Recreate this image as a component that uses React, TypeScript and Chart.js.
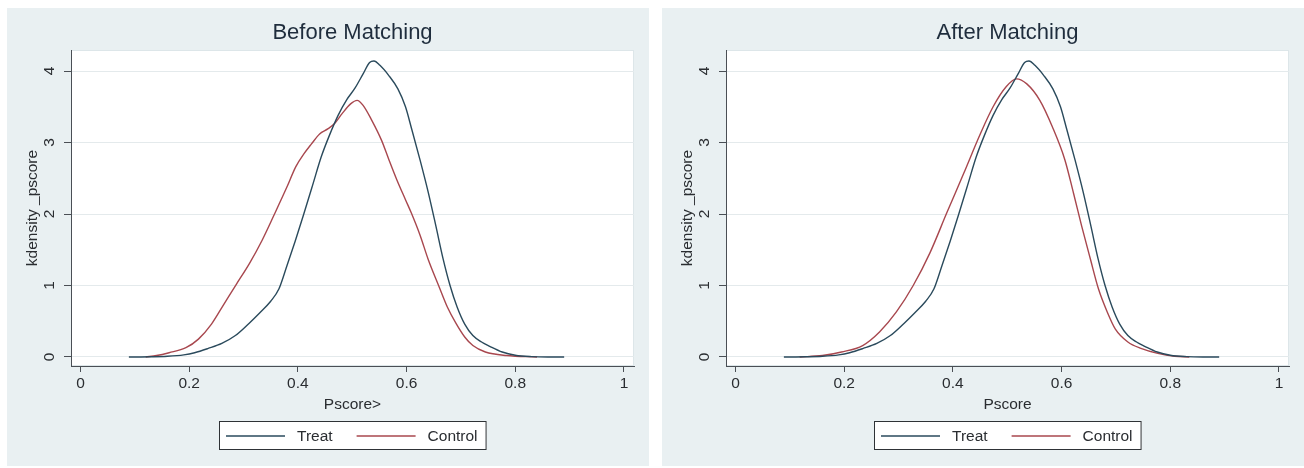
import React, { useEffect, useRef } from 'react';
import { Chart, registerables } from 'chart.js';

Chart.register(...registerables);

// ---------- data ----------
const panelTitles = ['Before Matching', 'After Matching'];
const xAxisTitles = ['Pscore>', 'Pscore'];
const yAxisTitle = 'kdensity _pscore';
const seriesLabels = ['Treat', 'Control'];
const xTickValues = [0, 0.2, 0.4, 0.6, 0.8, 1];
const yTickValues = [0, 1, 2, 3, 4];

const treatPscore = [0.089, 0.13, 0.16, 0.19, 0.21, 0.235, 0.26, 0.285, 0.31, 0.33, 0.35, 0.365, 0.38, 0.395, 0.41, 0.427, 0.443, 0.458, 0.474, 0.49, 0.505, 0.52, 0.532, 0.54, 0.551, 0.567, 0.584, 0.598, 0.609, 0.625, 0.64, 0.654, 0.667, 0.68, 0.693, 0.707, 0.722, 0.738, 0.753, 0.776, 0.8, 0.83, 0.86, 0.89];
const treatDensity = [0, 0.003, 0.01, 0.03, 0.06, 0.12, 0.19, 0.3, 0.47, 0.62, 0.78, 0.95, 1.28, 1.62, 1.98, 2.4, 2.8, 3.1, 3.38, 3.6, 3.76, 3.96, 4.12, 4.14, 4.08, 3.94, 3.75, 3.5, 3.2, 2.75, 2.3, 1.83, 1.38, 1.0, 0.7, 0.46, 0.3, 0.21, 0.15, 0.07, 0.025, 0.005, 0, 0];

const controlBeforePscore = [0.12, 0.14, 0.163, 0.194, 0.217, 0.241, 0.264, 0.287, 0.311, 0.334, 0.357, 0.38, 0.396, 0.411, 0.425, 0.44, 0.455, 0.468, 0.481, 0.497, 0.509, 0.52, 0.536, 0.554, 0.567, 0.582, 0.598, 0.609, 0.625, 0.64, 0.66, 0.675, 0.691, 0.707, 0.722, 0.745, 0.784, 0.84];
const controlBeforeDensity = [0, 0.02, 0.06, 0.13, 0.25, 0.46, 0.74, 1.02, 1.31, 1.63, 2.0, 2.38, 2.66, 2.84, 2.98, 3.12, 3.19, 3.27, 3.4, 3.54, 3.59, 3.52, 3.31, 3.03, 2.77, 2.48, 2.2, 2.01, 1.7, 1.36, 0.98, 0.7, 0.47, 0.28, 0.16, 0.07, 0.02, 0];

const controlAfterPscore = [0.118, 0.16, 0.195, 0.234, 0.265, 0.296, 0.327, 0.358, 0.389, 0.42, 0.451, 0.474, 0.498, 0.517, 0.536, 0.56, 0.583, 0.606, 0.622, 0.637, 0.653, 0.668, 0.684, 0.699, 0.722, 0.746, 0.777, 0.808, 0.835];
const controlAfterDensity = [0, 0.02, 0.07, 0.16, 0.35, 0.63, 1.0, 1.46, 2.02, 2.57, 3.13, 3.5, 3.78, 3.89, 3.82, 3.59, 3.22, 2.76, 2.29, 1.83, 1.37, 0.95, 0.63, 0.39, 0.21, 0.12, 0.05, 0.01, 0];

// ---------- style ----------
const FONT = '"Liberation Sans", Arial, Helvetica, sans-serif';
const TREAT_COLOR = '#2a4a5c';
const CONTROL_COLOR = '#a8474e';
const BG = '#e9f0f2';
const GRID = '#e4eaec';
const AXIS = '#4a4f55';
const TEXT = '#2a2d31';
const TITLE_COLOR = '#1f2d3d';
const PANEL_W = 642;
const PANEL_H = 458;

const panelDecor = {
  id: 'panelDecor',
  beforeDraw(chart: any) {
    const { ctx, chartArea: a, width, height } = chart;
    ctx.save();
    ctx.fillStyle = BG;
    ctx.fillRect(0, 0, width, height);
    ctx.fillStyle = '#ffffff';
    ctx.fillRect(a.left, a.top, a.right - a.left, a.bottom - a.top);
    ctx.strokeStyle = '#dde6e9';
    ctx.lineWidth = 1;
    ctx.strokeRect(a.left + 0.5, a.top + 0.5, a.right - a.left - 1, a.bottom - a.top - 1);
    ctx.restore();
  },
  afterDraw(chart: any, _args: any, opts: any) {
    const { ctx, chartArea: a } = chart;
    const cx = (a.left + a.right) / 2;
    ctx.save();
    // main title
    ctx.font = `22px ${FONT}`;
    ctx.fillStyle = TITLE_COLOR;
    ctx.textAlign = 'center';
    ctx.textBaseline = 'middle';
    ctx.fillText(opts.title, cx, 25);

    // legend box
    ctx.font = `15.5px ${FONT}`;
    const ds = chart.data.datasets;
    const lineLen = 59;
    const padL = 7;
    const padR = 9;
    const gap = 12;
    const itemGap = 24;
    const widths = ds.map((d: any) => ctx.measureText(d.label).width);
    let total = padL + padR;
    widths.forEach((w: number, i: number) => {
      total += lineLen + gap + w + (i < widths.length - 1 ? itemGap : 0);
    });
    const boxTop = a.bottom + 55;
    const boxH = 29;
    const boxLeft = Math.round(cx - total / 2);
    ctx.fillStyle = '#ffffff';
    ctx.fillRect(boxLeft, boxTop, total, boxH);
    ctx.strokeStyle = '#2e3236';
    ctx.lineWidth = 1;
    ctx.strokeRect(boxLeft + 0.5, boxTop + 0.5, total - 1, boxH - 1);
    let x = boxLeft + padL;
    const midY = boxTop + boxH / 2;
    ds.forEach((d: any, i: number) => {
      ctx.strokeStyle = d.borderColor;
      ctx.lineWidth = 1.4;
      ctx.beginPath();
      ctx.moveTo(x, midY + 0.5);
      ctx.lineTo(x + lineLen, midY + 0.5);
      ctx.stroke();
      x += lineLen + gap;
      ctx.fillStyle = TEXT;
      ctx.textAlign = 'left';
      ctx.textBaseline = 'middle';
      ctx.fillText(d.label, x, midY + 1);
      x += widths[i] + itemGap;
    });
    ctx.restore();
  },
};

function toPoints(xs: number[], ys: number[]) {
  return xs.map((x, i) => ({ x, y: ys[i] }));
}

type PanelProps = {
  index: number;
  left: number;
  controlX: number[];
  controlY: number[];
};

function Panel({ index, left, controlX, controlY }: PanelProps) {
  const ref = useRef<HTMLCanvasElement | null>(null);

  useEffect(() => {
    if (!ref.current) return;
    const tickFont = { family: FONT, size: 15.5 };
    const chart = new Chart(ref.current, {
      type: 'line',
      data: {
        datasets: [
          {
            label: seriesLabels[0],
            data: toPoints(treatPscore, treatDensity),
            borderColor: TREAT_COLOR,
            backgroundColor: TREAT_COLOR,
            borderWidth: 1.4,
            pointRadius: 0,
            fill: false,
            cubicInterpolationMode: 'monotone',
          },
          {
            label: seriesLabels[1],
            data: toPoints(controlX, controlY),
            borderColor: CONTROL_COLOR,
            backgroundColor: CONTROL_COLOR,
            borderWidth: 1.4,
            pointRadius: 0,
            fill: false,
            cubicInterpolationMode: 'monotone',
          },
        ],
      },
      options: {
        responsive: false,
        animation: false,
        events: [],
        layout: { padding: { top: 42, right: 15, bottom: 52, left: 0 } },
        plugins: {
          legend: { display: false },
          title: { display: false },
          tooltip: { enabled: false },
          panelDecor: { title: panelTitles[index] },
        } as any,
        scales: {
          x: {
            type: 'linear',
            min: -0.0175,
            max: 1.0185,
            afterBuildTicks: (s: any) => {
              s.ticks = xTickValues.map((v) => ({ value: v }));
            },
            afterFit: (s: any) => {
              s.height = 48;
            },
            grid: {
              drawOnChartArea: false,
              drawTicks: true,
              tickLength: 6,
              color: AXIS,
              tickColor: AXIS,
            },
            border: { display: true, color: AXIS, width: 1 },
            ticks: {
              color: TEXT,
              font: tickFont,
              padding: 2,
              minRotation: 0,
              maxRotation: 0,
              callback: (v: any) => String(v),
            },
            title: {
              display: true,
              text: xAxisTitles[index],
              color: TEXT,
              font: tickFont,
              padding: { top: 0, bottom: 0 },
            },
          },
          y: {
            type: 'linear',
            min: -0.126,
            max: 4.294,
            afterBuildTicks: (s: any) => {
              s.ticks = yTickValues.map((v) => ({ value: v }));
            },
            afterFit: (s: any) => {
              s.width = 64;
            },
            grid: {
              drawOnChartArea: true,
              drawTicks: true,
              tickLength: 7,
              color: GRID,
              tickColor: AXIS,
            },
            border: { display: true, color: AXIS, width: 1 },
            ticks: {
              color: TEXT,
              font: tickFont,
              padding: 10,
              minRotation: 90,
              maxRotation: 90,
              crossAlign: 'center',
              callback: (v: any) => String(v),
            },
            title: {
              display: true,
              text: yAxisTitle,
              color: TEXT,
              font: tickFont,
              padding: { top: 16, bottom: 0 },
            },
          },
        },
      } as any,
      plugins: [panelDecor as any],
    });
    return () => chart.destroy();
  }, [index, controlX, controlY]);

  return (
    <canvas
      ref={ref}
      width={PANEL_W}
      height={PANEL_H}
      style={{ position: 'absolute', left, top: 8, width: PANEL_W, height: PANEL_H, display: 'block' }}
    />
  );
}

export default function App() {
  useEffect(() => {
    document.body.style.margin = '0';
    document.body.style.background = '#ffffff';
  }, []);
  return (
    <div style={{ position: 'relative', width: 1304, height: 468, background: '#ffffff', overflow: 'hidden' }}>
      <Panel index={0} left={7} controlX={controlBeforePscore} controlY={controlBeforeDensity} />
      <Panel index={1} left={662} controlX={controlAfterPscore} controlY={controlAfterDensity} />
    </div>
  );
}
